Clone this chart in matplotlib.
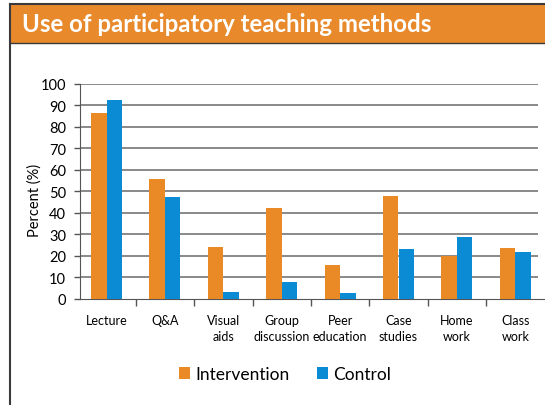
import numpy as np
import matplotlib
matplotlib.use("Agg")
import matplotlib.pyplot as plt
from matplotlib.patches import Rectangle
from matplotlib.lines import Line2D

plt.rcParams['font.family'] = ['Lato', 'DejaVu Sans']

categories = ['Lecture', 'Q&A', 'Visual\naids', 'Group\ndiscussion', 'Peer\neducation',
              'Case\nstudies', 'Home\nwork', 'Class\nwork']
intervention = [86.4, 55.7, 24.0, 42.3, 15.8, 47.8, 19.8, 23.7]
control = [92.6, 47.5, 3.4, 8.0, 2.8, 23.1, 28.6, 21.7]
yticks = [0, 10, 20, 30, 40, 50, 60, 70, 80, 90, 100]

orange = '#E98A26'
blue = '#0A8BD3'
W, H = 545, 406

fig = plt.figure(figsize=(W / 100, H / 100), dpi=100)

# title bar and frame
fig.patches.append(Rectangle((10 / W, 1 - 44 / H), 1, 39 / H, transform=fig.transFigure,
                             facecolor='#E8892B', edgecolor='none', zorder=0))
fig.lines.append(Line2D([10 / W, 1], [1 - 5 / H] * 2, transform=fig.transFigure, color='#3a3a3a', lw=1.5))
fig.lines.append(Line2D([10 / W, 1], [1 - 44 / H] * 2, transform=fig.transFigure, color='#3a3a3a', lw=1.0))
fig.lines.append(Line2D([10 / W] * 2, [0, 1 - 5 / H], transform=fig.transFigure, color='#3a3a3a', lw=1.5))
fig.text(22 / W, 1 - 24.5 / H, 'Use of participatory teaching methods', color='white',
         fontsize=17.3, fontweight='bold', va='center', ha='left')

# axes: category centres at 106.5 + 58.4*i px
left_px, x0_px, step = 80, 106.5, 58.4
xmin = (left_px - x0_px) / step
xmax = (W - x0_px) / step
ax = fig.add_axes([left_px / W, 1 - 300 / H, (W - left_px) / W, (300 - 84.7) / H])
ax.set_xlim(xmin, xmax)
ax.set_ylim(0, 100)

x = np.arange(len(categories))
bw = 0.265
ax.bar(x - bw / 2, intervention, bw, color=orange, label='Intervention', zorder=3)
ax.bar(x + bw / 2, control, bw, color=blue, label='Control', zorder=3)

grid_end = (538 - x0_px) / step
ax.hlines(yticks[1:], xmin, grid_end, color='#6a6a6a', lw=1.1, zorder=1)

for s in ['top', 'right']:
    ax.spines[s].set_visible(False)
ax.spines['left'].set_color('#555555')
ax.spines['bottom'].set_color('#555555')

ax.set_yticks(yticks)
ax.tick_params(axis='y', length=4, width=1, color='#555555', pad=6, labelsize=10.5)
ax.set_xticks(x[:-1] + 0.5)
ax.set_xticklabels([])
ax.tick_params(axis='x', which='major', length=5, width=1, color='#555555', direction='out')
ax.set_xticks(x, minor=True)
ax.set_xticklabels(categories, minor=True, fontsize=9, linespacing=1.35, va='top')
ax.tick_params(axis='x', which='minor', length=0, pad=11)

fig.text(35 / W, 1 - 200 / H, 'Percent (%)', rotation=90, fontsize=10.5, ha='center', va='center')

fig.legend(loc='center', bbox_to_anchor=(285 / W, 1 - 375 / H), ncol=2, frameon=False,
           fontsize=12.5, handlelength=0.65, handleheight=0.65, handletextpad=0.3, columnspacing=1.6)

fig.savefig('out.png', dpi=100)
